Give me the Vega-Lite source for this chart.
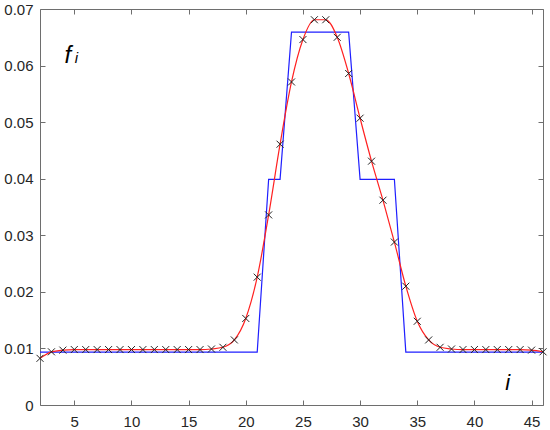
{
  "$schema": "https://vega.github.io/schema/vega-lite/v6.json",
  "width": 503,
  "height": 396,
  "autosize": {"type": "none"},
  "padding": {"left": 40, "top": 9, "right": 7, "bottom": 25},
  "background": "white",
  "config": {
    "view": {"stroke": "#6e6e6e", "strokeWidth": 1},
    "axis": {
      "grid": false,
      "domain": false,
      "tickColor": "#6e6e6e",
      "tickSize": -5,
      "labelFont": "Liberation Sans",
      "labelFontSize": 15,
      "labelColor": "#262626",
      "title": null
    }
  },
  "datasets": {
    "blue": [
      {"i": 2, "v": 0.00935}, {"i": 21, "v": 0.00935},
      {"i": 22, "v": 0.0399}, {"i": 23, "v": 0.0399},
      {"i": 24, "v": 0.0659}, {"i": 29, "v": 0.0659},
      {"i": 30, "v": 0.0399}, {"i": 33, "v": 0.0399},
      {"i": 34, "v": 0.00935}, {"i": 46, "v": 0.00935}
    ],
    "red": [
      {"i": 2, "v": 0.00825}, {"i": 3, "v": 0.0094}, {"i": 4, "v": 0.0097},
      {"i": 5, "v": 0.0098}, {"i": 6, "v": 0.0098}, {"i": 7, "v": 0.0098},
      {"i": 8, "v": 0.0098}, {"i": 9, "v": 0.0098}, {"i": 10, "v": 0.0098},
      {"i": 11, "v": 0.0098}, {"i": 12, "v": 0.0098}, {"i": 13, "v": 0.0098},
      {"i": 14, "v": 0.0098}, {"i": 15, "v": 0.0098}, {"i": 16, "v": 0.0098},
      {"i": 17, "v": 0.0099}, {"i": 18, "v": 0.0102}, {"i": 19, "v": 0.0115},
      {"i": 20, "v": 0.0153}, {"i": 21, "v": 0.0226}, {"i": 22, "v": 0.0336},
      {"i": 23, "v": 0.0461}, {"i": 24, "v": 0.0571}, {"i": 25, "v": 0.0646},
      {"i": 26, "v": 0.0681}, {"i": 27, "v": 0.0681}, {"i": 28, "v": 0.0650},
      {"i": 29, "v": 0.0586}, {"i": 30, "v": 0.0507}, {"i": 31, "v": 0.0431},
      {"i": 32, "v": 0.0362}, {"i": 33, "v": 0.0288}, {"i": 34, "v": 0.0210},
      {"i": 35, "v": 0.0148}, {"i": 36, "v": 0.0115}, {"i": 37, "v": 0.0102},
      {"i": 38, "v": 0.0099}, {"i": 39, "v": 0.0098}, {"i": 40, "v": 0.0098},
      {"i": 41, "v": 0.0098}, {"i": 42, "v": 0.0098}, {"i": 43, "v": 0.0098},
      {"i": 44, "v": 0.0098}, {"i": 45, "v": 0.0097}, {"i": 46, "v": 0.0094}
    ]
  },
  "layer": [
    {
      "data": {"name": "blue"},
      "mark": {"type": "line", "color": "#1f1fff", "strokeWidth": 1.2},
      "encoding": {
        "x": {"field": "i", "type": "quantitative",
              "scale": {"domain": [2, 46], "nice": false, "zero": false},
              "axis": {"orient": "bottom", "values": [5, 10, 15, 20, 25, 30, 35, 40, 45], "labelPadding": 14}},
        "y": {"field": "v", "type": "quantitative",
              "scale": {"domain": [0, 0.07], "nice": false},
              "axis": {"orient": "left", "values": [0, 0.01, 0.02, 0.03, 0.04, 0.05, 0.06, 0.07], "labelPadding": 12, "format": "~g"}}
      }
    },
    {
      "data": {"name": "red"},
      "mark": {"type": "line", "color": "#ff2020", "strokeWidth": 1.2, "interpolate": "monotone"},
      "encoding": {
        "x": {"field": "i", "type": "quantitative", "scale": {"domain": [2, 46], "nice": false, "zero": false}, "axis": {"orient": "top", "labels": false, "values": [5, 10, 15, 20, 25, 30, 35, 40, 45]}},
        "y": {"field": "v", "type": "quantitative", "scale": {"domain": [0, 0.07], "nice": false}, "axis": {"orient": "right", "labels": false, "values": [0, 0.01, 0.02, 0.03, 0.04, 0.05, 0.06, 0.07]}}
      }
    },
    {
      "data": {"name": "red"},
      "mark": {"type": "point", "shape": "M-1,-1L1,1M-1,1L1,-1", "size": 49, "color": "#222222", "filled": false, "strokeWidth": 1, "opacity": 1},
      "encoding": {
        "x": {"field": "i", "type": "quantitative", "scale": {"domain": [2, 46], "nice": false, "zero": false}, "axis": null},
        "y": {"field": "v", "type": "quantitative", "scale": {"domain": [0, 0.07], "nice": false}, "axis": null}
      }
    },
    {
      "data": {"values": [{"t": "f"}]},
      "mark": {"type": "text", "font": "Liberation Sans", "fontStyle": "italic", "fontSize": 24, "align": "left", "baseline": "alphabetic", "color": "black"},
      "encoding": {
        "text": {"field": "t"},
        "x": {"datum": 4.15, "type": "quantitative", "scale": {"domain": [2, 46], "nice": false, "zero": false}, "axis": null},
        "y": {"datum": 0.0604, "type": "quantitative", "scale": {"domain": [0, 0.07], "nice": false}, "axis": null}
      }
    },
    {
      "data": {"values": [{"t": "i"}]},
      "mark": {"type": "text", "font": "Liberation Sans", "fontStyle": "italic", "fontSize": 15, "align": "left", "baseline": "alphabetic", "color": "black"},
      "encoding": {
        "text": {"field": "t"},
        "x": {"datum": 5.05, "type": "quantitative", "scale": {"domain": [2, 46], "nice": false, "zero": false}, "axis": null},
        "y": {"datum": 0.0604, "type": "quantitative", "scale": {"domain": [0, 0.07], "nice": false}, "axis": null}
      }
    },
    {
      "data": {"values": [{"t": "i"}]},
      "mark": {"type": "text", "font": "Liberation Sans", "fontStyle": "italic", "fontSize": 22, "align": "left", "baseline": "alphabetic", "color": "black"},
      "encoding": {
        "text": {"field": "t"},
        "x": {"datum": 42.7, "type": "quantitative", "scale": {"domain": [2, 46], "nice": false, "zero": false}, "axis": null},
        "y": {"datum": 0.0027, "type": "quantitative", "scale": {"domain": [0, 0.07], "nice": false}, "axis": null}
      }
    }
  ],
  "resolve": {"axis": {"x": "independent", "y": "independent"}}
}
